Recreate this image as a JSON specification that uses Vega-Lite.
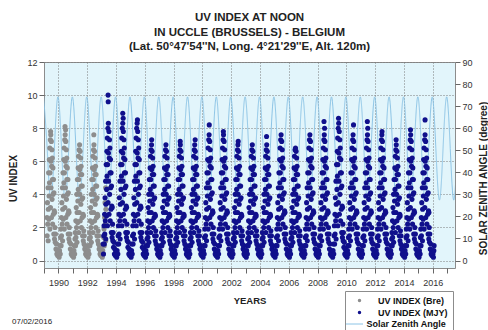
{"$schema":"https://vega.github.io/schema/vega-lite/v6.json","width":411,"height":206,"autosize":"none","padding":{"left":44,"top":62,"right":33,"bottom":62},"background":"#ffffff",
"config":{"font":"Liberation Sans","view":{"fill":"#e2f5fb","stroke":"#8c8c8c","strokeWidth":1},"axis":{"domain":false,"labelFont":"Liberation Sans","labelFontSize":9,"labelColor":"#333333","labelOverlap":false,"labelFlush":false,"tickColor":"#666666","tickSize":5,"titleFont":"Liberation Sans","titleFontWeight":"bold","titleFontSize":10,"titleColor":"#222222","gridColor":"#7a7a7a","gridDash":[1,2]}},
"title":{"text":["UV INDEX AT NOON","IN UCCLE (BRUSSELS) - BELGIUM","(Lat. 50°47'54''N, Long. 4°21'29''E, Alt. 120m)"],"font":"Liberation Sans","fontSize":11.5,"fontWeight":"bold","lineHeight":14.5,"color":"#222222","anchor":"middle","offset":5.5},
"datasets":{
"sza":[{"t":1988.97,"z":74.2},{"t":1989.22,"z":50.8},{"t":1989.47,"z":27.4},{"t":1989.72,"z":50.8},{"t":1989.97,"z":74.2},{"t":1990.22,"z":50.8},{"t":1990.47,"z":27.4},{"t":1990.72,"z":50.8},{"t":1990.97,"z":74.2},{"t":1991.22,"z":50.8},{"t":1991.47,"z":27.4},{"t":1991.72,"z":50.8},{"t":1991.97,"z":74.2},{"t":1992.22,"z":50.8},{"t":1992.47,"z":27.4},{"t":1992.72,"z":50.8},{"t":1992.97,"z":74.2},{"t":1993.22,"z":50.8},{"t":1993.47,"z":27.4},{"t":1993.72,"z":50.8},{"t":1993.97,"z":74.2},{"t":1994.22,"z":50.8},{"t":1994.47,"z":27.4},{"t":1994.72,"z":50.8},{"t":1994.97,"z":74.2},{"t":1995.22,"z":50.8},{"t":1995.47,"z":27.4},{"t":1995.72,"z":50.8},{"t":1995.97,"z":74.2},{"t":1996.22,"z":50.8},{"t":1996.47,"z":27.4},{"t":1996.72,"z":50.8},{"t":1996.97,"z":74.2},{"t":1997.22,"z":50.8},{"t":1997.47,"z":27.4},{"t":1997.72,"z":50.8},{"t":1997.97,"z":74.2},{"t":1998.22,"z":50.8},{"t":1998.47,"z":27.4},{"t":1998.72,"z":50.8},{"t":1998.97,"z":74.2},{"t":1999.22,"z":50.8},{"t":1999.47,"z":27.4},{"t":1999.72,"z":50.8},{"t":1999.97,"z":74.2},{"t":2000.22,"z":50.8},{"t":2000.47,"z":27.4},{"t":2000.72,"z":50.8},{"t":2000.97,"z":74.2},{"t":2001.22,"z":50.8},{"t":2001.47,"z":27.4},{"t":2001.72,"z":50.8},{"t":2001.97,"z":74.2},{"t":2002.22,"z":50.8},{"t":2002.47,"z":27.4},{"t":2002.72,"z":50.8},{"t":2002.97,"z":74.2},{"t":2003.22,"z":50.8},{"t":2003.47,"z":27.4},{"t":2003.72,"z":50.8},{"t":2003.97,"z":74.2},{"t":2004.22,"z":50.8},{"t":2004.47,"z":27.4},{"t":2004.72,"z":50.8},{"t":2004.97,"z":74.2},{"t":2005.22,"z":50.8},{"t":2005.47,"z":27.4},{"t":2005.72,"z":50.8},{"t":2005.97,"z":74.2},{"t":2006.22,"z":50.8},{"t":2006.47,"z":27.4},{"t":2006.72,"z":50.8},{"t":2006.97,"z":74.2},{"t":2007.22,"z":50.8},{"t":2007.47,"z":27.4},{"t":2007.72,"z":50.8},{"t":2007.97,"z":74.2},{"t":2008.22,"z":50.8},{"t":2008.47,"z":27.4},{"t":2008.72,"z":50.8},{"t":2008.97,"z":74.2},{"t":2009.22,"z":50.8},{"t":2009.47,"z":27.4},{"t":2009.72,"z":50.8},{"t":2009.97,"z":74.2},{"t":2010.22,"z":50.8},{"t":2010.47,"z":27.4},{"t":2010.72,"z":50.8},{"t":2010.97,"z":74.2},{"t":2011.22,"z":50.8},{"t":2011.47,"z":27.4},{"t":2011.72,"z":50.8},{"t":2011.97,"z":74.2},{"t":2012.22,"z":50.8},{"t":2012.47,"z":27.4},{"t":2012.72,"z":50.8},{"t":2012.97,"z":74.2},{"t":2013.22,"z":50.8},{"t":2013.47,"z":27.4},{"t":2013.72,"z":50.8},{"t":2013.97,"z":74.2},{"t":2014.22,"z":50.8},{"t":2014.47,"z":27.4},{"t":2014.72,"z":50.8},{"t":2014.97,"z":74.2},{"t":2015.22,"z":50.8},{"t":2015.47,"z":27.4},{"t":2015.72,"z":50.8},{"t":2015.97,"z":74.2},{"t":2016.22,"z":50.8},{"t":2016.47,"z":27.4},{"t":2016.72,"z":50.8},{"t":2016.97,"z":74.2},{"t":2017.22,"z":50.8},{"t":2017.47,"z":27.4},{"t":2017.72,"z":50.8},{"t":2017.97,"z":74.2}],
"bre":[{"t":1989.21,"u":2.6},{"t":1989.22,"u":1.5},{"t":1989.24,"u":3.5},{"t":1989.26,"u":2.2},{"t":1989.28,"u":4.4},{"t":1989.29,"u":1.2},{"t":1989.30,"u":3.1},{"t":1989.32,"u":5.3},{"t":1989.34,"u":2.5},{"t":1989.35,"u":3.9},{"t":1989.37,"u":6.1},{"t":1989.38,"u":4.7},{"t":1989.40,"u":6.8},{"t":1989.41,"u":1.9},{"t":1989.42,"u":5.3},{"t":1989.44,"u":7.3},{"t":1989.45,"u":3.2},{"t":1989.46,"u":7.8},{"t":1989.47,"u":7.6},{"t":1989.48,"u":6.0},{"t":1989.49,"u":4.4},{"t":1989.51,"u":7.2},{"t":1989.52,"u":2.6},{"t":1989.53,"u":5.7},{"t":1989.55,"u":6.7},{"t":1989.56,"u":3.7},{"t":1989.58,"u":6.2},{"t":1989.59,"u":4.9},{"t":1989.60,"u":2.2},{"t":1989.62,"u":5.6},{"t":1989.63,"u":4.0},{"t":1989.65,"u":2.8},{"t":1989.66,"u":4.9},{"t":1989.68,"u":1.6},{"t":1989.69,"u":4.1},{"t":1989.71,"u":3.0},{"t":1989.73,"u":1.3},{"t":1989.74,"u":2.9},{"t":1989.76,"u":2.0},{"t":1989.78,"u":1.1},{"t":1989.80,"u":1.6},{"t":1989.83,"u":0.7},{"t":1989.86,"u":1.0},{"t":1989.89,"u":0.4},{"t":1989.92,"u":0.6},{"t":1989.95,"u":0.3},{"t":1989.98,"u":0.5},
{"t":1990.02,"u":0.4},{"t":1990.05,"u":0.2},{"t":1990.08,"u":0.6},{"t":1990.11,"u":0.9},{"t":1990.13,"u":0.4},{"t":1990.15,"u":1.4},{"t":1990.17,"u":1.9},{"t":1990.19,"u":0.9},{"t":1990.21,"u":2.6},{"t":1990.22,"u":1.5},{"t":1990.24,"u":3.5},{"t":1990.26,"u":2.2},{"t":1990.28,"u":4.4},{"t":1990.29,"u":1.2},{"t":1990.30,"u":3.1},{"t":1990.32,"u":5.3},{"t":1990.34,"u":2.5},{"t":1990.35,"u":3.9},{"t":1990.37,"u":6.1},{"t":1990.38,"u":4.7},{"t":1990.40,"u":6.8},{"t":1990.41,"u":1.9},{"t":1990.42,"u":5.3},{"t":1990.44,"u":7.3},{"t":1990.45,"u":3.2},{"t":1990.46,"u":8.1},{"t":1990.47,"u":7.6},{"t":1990.48,"u":6.0},{"t":1990.49,"u":4.4},{"t":1990.50,"u":7.9},{"t":1990.51,"u":7.2},{"t":1990.52,"u":2.6},{"t":1990.53,"u":5.7},{"t":1990.55,"u":6.7},{"t":1990.56,"u":3.7},{"t":1990.58,"u":6.2},{"t":1990.59,"u":4.9},{"t":1990.60,"u":2.2},{"t":1990.62,"u":5.6},{"t":1990.63,"u":4.0},{"t":1990.65,"u":2.8},{"t":1990.66,"u":4.9},{"t":1990.68,"u":1.6},{"t":1990.69,"u":4.1},{"t":1990.71,"u":3.0},{"t":1990.73,"u":1.3},{"t":1990.74,"u":2.9},{"t":1990.76,"u":2.0},{"t":1990.78,"u":1.1},{"t":1990.80,"u":1.6},{"t":1990.83,"u":0.7},{"t":1990.86,"u":1.0},{"t":1990.89,"u":0.4},{"t":1990.92,"u":0.6},{"t":1990.95,"u":0.3},{"t":1990.98,"u":0.5},
{"t":1991.02,"u":0.4},{"t":1991.05,"u":0.2},{"t":1991.08,"u":0.6},{"t":1991.11,"u":0.9},{"t":1991.13,"u":0.4},{"t":1991.15,"u":1.3},{"t":1991.17,"u":1.7},{"t":1991.19,"u":0.9},{"t":1991.21,"u":2.4},{"t":1991.22,"u":1.4},{"t":1991.24,"u":3.2},{"t":1991.26,"u":2.0},{"t":1991.28,"u":4.0},{"t":1991.29,"u":1.1},{"t":1991.30,"u":2.9},{"t":1991.32,"u":4.9},{"t":1991.34,"u":2.3},{"t":1991.35,"u":3.6},{"t":1991.37,"u":5.6},{"t":1991.38,"u":4.3},{"t":1991.40,"u":6.3},{"t":1991.41,"u":1.7},{"t":1991.42,"u":4.9},{"t":1991.44,"u":6.7},{"t":1991.45,"u":2.9},{"t":1991.47,"u":7.0},{"t":1991.48,"u":5.5},{"t":1991.49,"u":4.0},{"t":1991.51,"u":6.6},{"t":1991.52,"u":2.4},{"t":1991.53,"u":5.2},{"t":1991.55,"u":6.2},{"t":1991.56,"u":3.4},{"t":1991.58,"u":5.7},{"t":1991.59,"u":4.5},{"t":1991.60,"u":2.0},{"t":1991.62,"u":5.2},{"t":1991.63,"u":3.7},{"t":1991.65,"u":2.6},{"t":1991.66,"u":4.5},{"t":1991.68,"u":1.5},{"t":1991.69,"u":3.8},{"t":1991.71,"u":2.8},{"t":1991.73,"u":1.2},{"t":1991.74,"u":2.7},{"t":1991.76,"u":1.8},{"t":1991.78,"u":1.0},{"t":1991.80,"u":1.5},{"t":1991.83,"u":0.7},{"t":1991.86,"u":0.9},{"t":1991.89,"u":0.4},{"t":1991.92,"u":0.6},{"t":1991.95,"u":0.3},{"t":1991.98,"u":0.5},
{"t":1992.02,"u":0.4},{"t":1992.05,"u":0.2},{"t":1992.08,"u":0.6},{"t":1992.11,"u":0.9},{"t":1992.13,"u":0.4},{"t":1992.15,"u":1.3},{"t":1992.17,"u":1.7},{"t":1992.19,"u":0.9},{"t":1992.21,"u":2.4},{"t":1992.22,"u":1.4},{"t":1992.24,"u":3.2},{"t":1992.26,"u":2.0},{"t":1992.28,"u":4.0},{"t":1992.29,"u":1.1},{"t":1992.30,"u":2.9},{"t":1992.32,"u":4.9},{"t":1992.34,"u":2.3},{"t":1992.35,"u":3.6},{"t":1992.37,"u":5.6},{"t":1992.38,"u":4.3},{"t":1992.40,"u":6.3},{"t":1992.41,"u":1.7},{"t":1992.42,"u":4.9},{"t":1992.44,"u":6.7},{"t":1992.45,"u":2.9},{"t":1992.46,"u":7.6},{"t":1992.47,"u":7.0},{"t":1992.48,"u":5.5},{"t":1992.49,"u":4.0},{"t":1992.51,"u":6.6},{"t":1992.52,"u":2.4},{"t":1992.53,"u":5.2},{"t":1992.55,"u":6.2},{"t":1992.56,"u":3.4},{"t":1992.58,"u":5.7},{"t":1992.59,"u":4.5},{"t":1992.60,"u":2.0},{"t":1992.62,"u":5.2},{"t":1992.63,"u":3.7},{"t":1992.65,"u":2.6},{"t":1992.66,"u":4.5},{"t":1992.68,"u":1.5},{"t":1992.69,"u":3.8},{"t":1992.71,"u":2.8},{"t":1992.73,"u":1.2},{"t":1992.74,"u":2.7},{"t":1992.76,"u":1.8},{"t":1992.78,"u":1.0},{"t":1992.80,"u":1.5},{"t":1992.83,"u":0.7},{"t":1992.86,"u":0.9},{"t":1992.89,"u":0.4},{"t":1992.92,"u":0.6},{"t":1992.95,"u":0.3},{"t":1992.98,"u":0.5},
{"t":1993.02,"u":0.4},{"t":1993.05,"u":0.2},{"t":1993.08,"u":0.6},{"t":1993.11,"u":0.9},{"t":1993.13,"u":0.4},{"t":1993.15,"u":1.4},{"t":1993.17,"u":1.9},{"t":1993.19,"u":0.9},{"t":1993.21,"u":2.6},{"t":1993.22,"u":1.5},{"t":1993.24,"u":3.5},{"t":1993.26,"u":2.2},{"t":1993.28,"u":4.4},{"t":1993.29,"u":1.2},{"t":1993.30,"u":3.1}],
"mjy":[{"t":1993.11,"u":1.0},{"t":1993.13,"u":0.4},{"t":1993.15,"u":1.5},{"t":1993.17,"u":2.1},{"t":1993.19,"u":1.0},{"t":1993.21,"u":2.8},{"t":1993.22,"u":1.6},{"t":1993.24,"u":3.8},{"t":1993.26,"u":2.4},{"t":1993.28,"u":4.8},{"t":1993.29,"u":1.3},{"t":1993.30,"u":3.4},{"t":1993.32,"u":5.8},{"t":1993.34,"u":2.7},{"t":1993.35,"u":4.3},{"t":1993.37,"u":6.6},{"t":1993.38,"u":5.1},{"t":1993.40,"u":7.4},{"t":1993.41,"u":2.1},{"t":1993.42,"u":5.8},{"t":1993.44,"u":8.0},{"t":1993.45,"u":10.0},{"t":1993.46,"u":9.6},{"t":1993.45,"u":3.5},{"t":1993.47,"u":8.3},{"t":1993.48,"u":6.5},{"t":1993.49,"u":4.8},{"t":1993.51,"u":7.8},{"t":1993.52,"u":2.8},{"t":1993.53,"u":6.2},{"t":1993.55,"u":7.3},{"t":1993.56,"u":4.0},{"t":1993.58,"u":6.8},{"t":1993.59,"u":5.3},{"t":1993.60,"u":2.4},{"t":1993.62,"u":6.1},{"t":1993.63,"u":4.4},{"t":1993.65,"u":3.1},{"t":1993.66,"u":5.3},{"t":1993.68,"u":1.7},{"t":1993.69,"u":4.5},{"t":1993.71,"u":3.3},{"t":1993.73,"u":1.4},{"t":1993.74,"u":3.2},{"t":1993.76,"u":2.2},{"t":1993.78,"u":1.2},{"t":1993.80,"u":1.7},{"t":1993.83,"u":0.8},{"t":1993.86,"u":1.1},{"t":1993.89,"u":0.4},{"t":1993.92,"u":0.7},{"t":1993.95,"u":0.3},{"t":1993.98,"u":0.5},
{"t":1994.02,"u":0.4},{"t":1994.05,"u":0.2},{"t":1994.08,"u":0.6},{"t":1994.11,"u":1.0},{"t":1994.13,"u":0.4},{"t":1994.15,"u":1.5},{"t":1994.17,"u":2.1},{"t":1994.19,"u":1.0},{"t":1994.21,"u":2.8},{"t":1994.22,"u":1.6},{"t":1994.24,"u":3.8},{"t":1994.26,"u":2.4},{"t":1994.28,"u":4.8},{"t":1994.29,"u":1.3},{"t":1994.30,"u":3.4},{"t":1994.32,"u":5.8},{"t":1994.34,"u":2.7},{"t":1994.35,"u":4.3},{"t":1994.37,"u":6.6},{"t":1994.38,"u":5.1},{"t":1994.40,"u":7.4},{"t":1994.41,"u":2.1},{"t":1994.42,"u":5.8},{"t":1994.44,"u":8.0},{"t":1994.45,"u":3.5},{"t":1994.47,"u":8.9},{"t":1994.47,"u":8.3},{"t":1994.48,"u":6.5},{"t":1994.49,"u":4.8},{"t":1994.50,"u":8.6},{"t":1994.51,"u":7.8},{"t":1994.52,"u":2.8},{"t":1994.53,"u":6.2},{"t":1994.55,"u":7.3},{"t":1994.56,"u":4.0},{"t":1994.58,"u":6.8},{"t":1994.59,"u":5.3},{"t":1994.60,"u":2.4},{"t":1994.62,"u":6.1},{"t":1994.63,"u":4.4},{"t":1994.65,"u":3.1},{"t":1994.66,"u":5.3},{"t":1994.68,"u":1.7},{"t":1994.69,"u":4.5},{"t":1994.71,"u":3.3},{"t":1994.73,"u":1.4},{"t":1994.74,"u":3.2},{"t":1994.76,"u":2.2},{"t":1994.78,"u":1.2},{"t":1994.80,"u":1.7},{"t":1994.83,"u":0.8},{"t":1994.86,"u":1.1},{"t":1994.89,"u":0.4},{"t":1994.92,"u":0.7},{"t":1994.95,"u":0.3},{"t":1994.98,"u":0.5},
{"t":1995.02,"u":0.4},{"t":1995.05,"u":0.2},{"t":1995.08,"u":0.6},{"t":1995.11,"u":1.0},{"t":1995.13,"u":0.4},{"t":1995.15,"u":1.5},{"t":1995.17,"u":2.1},{"t":1995.19,"u":1.0},{"t":1995.21,"u":2.8},{"t":1995.22,"u":1.6},{"t":1995.24,"u":3.8},{"t":1995.26,"u":2.4},{"t":1995.28,"u":4.8},{"t":1995.29,"u":1.3},{"t":1995.30,"u":3.4},{"t":1995.32,"u":5.8},{"t":1995.34,"u":2.7},{"t":1995.35,"u":4.3},{"t":1995.37,"u":6.6},{"t":1995.38,"u":5.1},{"t":1995.40,"u":7.4},{"t":1995.41,"u":2.1},{"t":1995.42,"u":5.8},{"t":1995.44,"u":8.0},{"t":1995.45,"u":3.5},{"t":1995.47,"u":8.3},{"t":1995.48,"u":6.5},{"t":1995.49,"u":8.5},{"t":1995.49,"u":4.8},{"t":1995.51,"u":7.8},{"t":1995.52,"u":2.8},{"t":1995.53,"u":6.2},{"t":1995.55,"u":7.3},{"t":1995.56,"u":4.0},{"t":1995.58,"u":6.8},{"t":1995.59,"u":5.3},{"t":1995.60,"u":2.4},{"t":1995.62,"u":6.1},{"t":1995.63,"u":4.4},{"t":1995.65,"u":3.1},{"t":1995.66,"u":5.3},{"t":1995.68,"u":1.7},{"t":1995.69,"u":4.5},{"t":1995.71,"u":3.3},{"t":1995.73,"u":1.4},{"t":1995.74,"u":3.2},{"t":1995.76,"u":2.2},{"t":1995.78,"u":1.2},{"t":1995.80,"u":1.7},{"t":1995.83,"u":0.8},{"t":1995.86,"u":1.1},{"t":1995.89,"u":0.4},{"t":1995.92,"u":0.7},{"t":1995.95,"u":0.3},{"t":1995.98,"u":0.5},
{"t":1996.02,"u":0.4},{"t":1996.05,"u":0.2},{"t":1996.08,"u":0.6},{"t":1996.11,"u":0.9},{"t":1996.13,"u":0.4},{"t":1996.15,"u":1.3},{"t":1996.17,"u":1.7},{"t":1996.19,"u":0.9},{"t":1996.21,"u":2.4},{"t":1996.22,"u":1.4},{"t":1996.24,"u":3.2},{"t":1996.26,"u":2.0},{"t":1996.28,"u":4.0},{"t":1996.29,"u":1.1},{"t":1996.30,"u":2.9},{"t":1996.32,"u":4.9},{"t":1996.34,"u":2.3},{"t":1996.35,"u":3.6},{"t":1996.37,"u":5.6},{"t":1996.38,"u":4.3},{"t":1996.40,"u":6.3},{"t":1996.41,"u":1.7},{"t":1996.42,"u":4.9},{"t":1996.44,"u":6.7},{"t":1996.45,"u":2.9},{"t":1996.47,"u":7.0},{"t":1996.48,"u":7.3},{"t":1996.48,"u":5.5},{"t":1996.49,"u":4.0},{"t":1996.51,"u":6.6},{"t":1996.52,"u":2.4},{"t":1996.53,"u":5.2},{"t":1996.55,"u":6.2},{"t":1996.56,"u":3.4},{"t":1996.58,"u":5.7},{"t":1996.59,"u":4.5},{"t":1996.60,"u":2.0},{"t":1996.62,"u":5.2},{"t":1996.63,"u":3.7},{"t":1996.65,"u":2.6},{"t":1996.66,"u":4.5},{"t":1996.68,"u":1.5},{"t":1996.69,"u":3.8},{"t":1996.71,"u":2.8},{"t":1996.73,"u":1.2},{"t":1996.74,"u":2.7},{"t":1996.76,"u":1.8},{"t":1996.78,"u":1.0},{"t":1996.80,"u":1.5},{"t":1996.83,"u":0.7},{"t":1996.86,"u":0.9},{"t":1996.89,"u":0.4},{"t":1996.92,"u":0.6},{"t":1996.95,"u":0.3},{"t":1996.98,"u":0.5},
{"t":1997.02,"u":0.4},{"t":1997.05,"u":0.2},{"t":1997.08,"u":0.6},{"t":1997.11,"u":0.9},{"t":1997.13,"u":0.4},{"t":1997.15,"u":1.3},{"t":1997.17,"u":1.7},{"t":1997.19,"u":0.9},{"t":1997.21,"u":2.4},{"t":1997.22,"u":1.4},{"t":1997.24,"u":3.2},{"t":1997.26,"u":2.0},{"t":1997.28,"u":4.0},{"t":1997.29,"u":1.1},{"t":1997.30,"u":2.9},{"t":1997.32,"u":4.9},{"t":1997.34,"u":2.3},{"t":1997.35,"u":3.6},{"t":1997.37,"u":5.6},{"t":1997.38,"u":4.3},{"t":1997.40,"u":6.3},{"t":1997.41,"u":1.7},{"t":1997.42,"u":4.9},{"t":1997.44,"u":6.7},{"t":1997.45,"u":2.9},{"t":1997.47,"u":7.0},{"t":1997.48,"u":5.5},{"t":1997.49,"u":4.0},{"t":1997.51,"u":6.6},{"t":1997.52,"u":2.4},{"t":1997.53,"u":5.2},{"t":1997.55,"u":6.2},{"t":1997.56,"u":3.4},{"t":1997.58,"u":5.7},{"t":1997.59,"u":4.5},{"t":1997.60,"u":2.0},{"t":1997.62,"u":5.2},{"t":1997.63,"u":3.7},{"t":1997.65,"u":2.6},{"t":1997.66,"u":4.5},{"t":1997.68,"u":1.5},{"t":1997.69,"u":3.8},{"t":1997.71,"u":2.8},{"t":1997.73,"u":1.2},{"t":1997.74,"u":2.7},{"t":1997.76,"u":1.8},{"t":1997.78,"u":1.0},{"t":1997.80,"u":1.5},{"t":1997.83,"u":0.7},{"t":1997.86,"u":0.9},{"t":1997.89,"u":0.4},{"t":1997.92,"u":0.6},{"t":1997.95,"u":0.3},{"t":1997.98,"u":0.5},
{"t":1998.02,"u":0.4},{"t":1998.05,"u":0.2},{"t":1998.08,"u":0.6},{"t":1998.11,"u":0.9},{"t":1998.13,"u":0.4},{"t":1998.15,"u":1.3},{"t":1998.17,"u":1.7},{"t":1998.19,"u":0.9},{"t":1998.21,"u":2.4},{"t":1998.22,"u":1.4},{"t":1998.24,"u":3.2},{"t":1998.26,"u":2.0},{"t":1998.28,"u":4.0},{"t":1998.29,"u":1.1},{"t":1998.30,"u":2.9},{"t":1998.32,"u":4.9},{"t":1998.34,"u":2.3},{"t":1998.35,"u":3.6},{"t":1998.37,"u":5.6},{"t":1998.38,"u":4.3},{"t":1998.40,"u":6.3},{"t":1998.41,"u":1.7},{"t":1998.42,"u":4.9},{"t":1998.44,"u":6.7},{"t":1998.45,"u":2.9},{"t":1998.46,"u":7.2},{"t":1998.47,"u":7.0},{"t":1998.48,"u":5.5},{"t":1998.49,"u":4.0},{"t":1998.51,"u":6.6},{"t":1998.52,"u":2.4},{"t":1998.53,"u":5.2},{"t":1998.55,"u":6.2},{"t":1998.56,"u":3.4},{"t":1998.58,"u":5.7},{"t":1998.59,"u":4.5},{"t":1998.60,"u":2.0},{"t":1998.62,"u":5.2},{"t":1998.63,"u":3.7},{"t":1998.65,"u":2.6},{"t":1998.66,"u":4.5},{"t":1998.68,"u":1.5},{"t":1998.69,"u":3.8},{"t":1998.71,"u":2.8},{"t":1998.73,"u":1.2},{"t":1998.74,"u":2.7},{"t":1998.76,"u":1.8},{"t":1998.78,"u":1.0},{"t":1998.80,"u":1.5},{"t":1998.83,"u":0.7},{"t":1998.86,"u":0.9},{"t":1998.89,"u":0.4},{"t":1998.92,"u":0.6},{"t":1998.95,"u":0.3},{"t":1998.98,"u":0.5},
{"t":1999.02,"u":0.4},{"t":1999.05,"u":0.2},{"t":1999.08,"u":0.6},{"t":1999.11,"u":0.9},{"t":1999.13,"u":0.4},{"t":1999.15,"u":1.3},{"t":1999.17,"u":1.7},{"t":1999.19,"u":0.9},{"t":1999.21,"u":2.4},{"t":1999.22,"u":1.4},{"t":1999.24,"u":3.2},{"t":1999.26,"u":2.0},{"t":1999.28,"u":4.0},{"t":1999.29,"u":1.1},{"t":1999.30,"u":2.9},{"t":1999.32,"u":4.9},{"t":1999.34,"u":2.3},{"t":1999.35,"u":3.6},{"t":1999.37,"u":5.6},{"t":1999.38,"u":4.3},{"t":1999.40,"u":6.3},{"t":1999.41,"u":1.7},{"t":1999.42,"u":4.9},{"t":1999.44,"u":6.7},{"t":1999.45,"u":2.9},{"t":1999.47,"u":7.0},{"t":1999.48,"u":5.5},{"t":1999.49,"u":4.0},{"t":1999.50,"u":7.3},{"t":1999.51,"u":6.6},{"t":1999.52,"u":2.4},{"t":1999.53,"u":5.2},{"t":1999.55,"u":6.2},{"t":1999.56,"u":3.4},{"t":1999.58,"u":5.7},{"t":1999.59,"u":4.5},{"t":1999.60,"u":2.0},{"t":1999.62,"u":5.2},{"t":1999.63,"u":3.7},{"t":1999.65,"u":2.6},{"t":1999.66,"u":4.5},{"t":1999.68,"u":1.5},{"t":1999.69,"u":3.8},{"t":1999.71,"u":2.8},{"t":1999.73,"u":1.2},{"t":1999.74,"u":2.7},{"t":1999.76,"u":1.8},{"t":1999.78,"u":1.0},{"t":1999.80,"u":1.5},{"t":1999.83,"u":0.7},{"t":1999.86,"u":0.9},{"t":1999.89,"u":0.4},{"t":1999.92,"u":0.6},{"t":1999.95,"u":0.3},{"t":1999.98,"u":0.5},
{"t":2000.02,"u":0.4},{"t":2000.05,"u":0.2},{"t":2000.08,"u":0.6},{"t":2000.11,"u":0.9},{"t":2000.13,"u":0.4},{"t":2000.15,"u":1.4},{"t":2000.17,"u":1.9},{"t":2000.19,"u":0.9},{"t":2000.21,"u":2.6},{"t":2000.22,"u":1.5},{"t":2000.24,"u":3.5},{"t":2000.26,"u":2.2},{"t":2000.28,"u":4.4},{"t":2000.29,"u":1.2},{"t":2000.30,"u":3.1},{"t":2000.32,"u":5.3},{"t":2000.34,"u":2.5},{"t":2000.35,"u":3.9},{"t":2000.37,"u":6.1},{"t":2000.38,"u":4.7},{"t":2000.40,"u":6.8},{"t":2000.41,"u":1.9},{"t":2000.42,"u":5.3},{"t":2000.44,"u":7.3},{"t":2000.45,"u":3.2},{"t":2000.47,"u":7.6},{"t":2000.48,"u":8.2},{"t":2000.48,"u":6.0},{"t":2000.49,"u":4.4},{"t":2000.51,"u":7.2},{"t":2000.52,"u":2.6},{"t":2000.53,"u":5.7},{"t":2000.55,"u":6.7},{"t":2000.56,"u":3.7},{"t":2000.58,"u":6.2},{"t":2000.59,"u":4.9},{"t":2000.60,"u":2.2},{"t":2000.62,"u":5.6},{"t":2000.63,"u":4.0},{"t":2000.65,"u":2.8},{"t":2000.66,"u":4.9},{"t":2000.68,"u":1.6},{"t":2000.69,"u":4.1},{"t":2000.71,"u":3.0},{"t":2000.73,"u":1.3},{"t":2000.74,"u":2.9},{"t":2000.76,"u":2.0},{"t":2000.78,"u":1.1},{"t":2000.80,"u":1.6},{"t":2000.83,"u":0.7},{"t":2000.86,"u":1.0},{"t":2000.89,"u":0.4},{"t":2000.92,"u":0.6},{"t":2000.95,"u":0.3},{"t":2000.98,"u":0.5},
{"t":2001.02,"u":0.4},{"t":2001.05,"u":0.2},{"t":2001.08,"u":0.6},{"t":2001.11,"u":0.9},{"t":2001.13,"u":0.4},{"t":2001.15,"u":1.4},{"t":2001.17,"u":1.9},{"t":2001.19,"u":0.9},{"t":2001.21,"u":2.6},{"t":2001.22,"u":1.5},{"t":2001.24,"u":3.5},{"t":2001.26,"u":2.2},{"t":2001.28,"u":4.4},{"t":2001.29,"u":1.2},{"t":2001.30,"u":3.1},{"t":2001.32,"u":5.3},{"t":2001.34,"u":2.5},{"t":2001.35,"u":3.9},{"t":2001.37,"u":6.1},{"t":2001.38,"u":4.7},{"t":2001.40,"u":6.8},{"t":2001.41,"u":1.9},{"t":2001.42,"u":5.3},{"t":2001.44,"u":7.3},{"t":2001.45,"u":3.2},{"t":2001.46,"u":7.8},{"t":2001.47,"u":7.6},{"t":2001.48,"u":6.0},{"t":2001.49,"u":4.4},{"t":2001.51,"u":7.2},{"t":2001.52,"u":2.6},{"t":2001.53,"u":5.7},{"t":2001.55,"u":6.7},{"t":2001.56,"u":3.7},{"t":2001.58,"u":6.2},{"t":2001.59,"u":4.9},{"t":2001.60,"u":2.2},{"t":2001.62,"u":5.6},{"t":2001.63,"u":4.0},{"t":2001.65,"u":2.8},{"t":2001.66,"u":4.9},{"t":2001.68,"u":1.6},{"t":2001.69,"u":4.1},{"t":2001.71,"u":3.0},{"t":2001.73,"u":1.3},{"t":2001.74,"u":2.9},{"t":2001.76,"u":2.0},{"t":2001.78,"u":1.1},{"t":2001.80,"u":1.6},{"t":2001.83,"u":0.7},{"t":2001.86,"u":1.0},{"t":2001.89,"u":0.4},{"t":2001.92,"u":0.6},{"t":2001.95,"u":0.3},{"t":2001.98,"u":0.5},
{"t":2002.02,"u":0.4},{"t":2002.05,"u":0.2},{"t":2002.08,"u":0.6},{"t":2002.11,"u":0.9},{"t":2002.13,"u":0.4},{"t":2002.15,"u":1.3},{"t":2002.17,"u":1.7},{"t":2002.19,"u":0.9},{"t":2002.21,"u":2.4},{"t":2002.22,"u":1.4},{"t":2002.24,"u":3.2},{"t":2002.26,"u":2.0},{"t":2002.28,"u":4.0},{"t":2002.29,"u":1.1},{"t":2002.30,"u":2.9},{"t":2002.32,"u":4.9},{"t":2002.34,"u":2.3},{"t":2002.35,"u":3.6},{"t":2002.37,"u":5.6},{"t":2002.38,"u":4.3},{"t":2002.40,"u":6.3},{"t":2002.41,"u":1.7},{"t":2002.42,"u":4.9},{"t":2002.44,"u":6.7},{"t":2002.45,"u":2.9},{"t":2002.47,"u":7.0},{"t":2002.48,"u":5.5},{"t":2002.49,"u":7.2},{"t":2002.49,"u":4.0},{"t":2002.51,"u":6.6},{"t":2002.52,"u":2.4},{"t":2002.53,"u":5.2},{"t":2002.55,"u":6.2},{"t":2002.56,"u":3.4},{"t":2002.58,"u":5.7},{"t":2002.59,"u":4.5},{"t":2002.60,"u":2.0},{"t":2002.62,"u":5.2},{"t":2002.63,"u":3.7},{"t":2002.65,"u":2.6},{"t":2002.66,"u":4.5},{"t":2002.68,"u":1.5},{"t":2002.69,"u":3.8},{"t":2002.71,"u":2.8},{"t":2002.73,"u":1.2},{"t":2002.74,"u":2.7},{"t":2002.76,"u":1.8},{"t":2002.78,"u":1.0},{"t":2002.80,"u":1.5},{"t":2002.83,"u":0.7},{"t":2002.86,"u":0.9},{"t":2002.89,"u":0.4},{"t":2002.92,"u":0.6},{"t":2002.95,"u":0.3},{"t":2002.98,"u":0.5},
{"t":2003.02,"u":0.4},{"t":2003.05,"u":0.2},{"t":2003.08,"u":0.6},{"t":2003.11,"u":0.9},{"t":2003.13,"u":0.4},{"t":2003.15,"u":1.3},{"t":2003.17,"u":1.7},{"t":2003.19,"u":0.9},{"t":2003.21,"u":2.4},{"t":2003.22,"u":1.4},{"t":2003.24,"u":3.2},{"t":2003.26,"u":2.0},{"t":2003.28,"u":4.0},{"t":2003.29,"u":1.1},{"t":2003.30,"u":2.9},{"t":2003.32,"u":4.9},{"t":2003.34,"u":2.3},{"t":2003.35,"u":3.6},{"t":2003.37,"u":5.6},{"t":2003.38,"u":4.3},{"t":2003.40,"u":6.3},{"t":2003.41,"u":1.7},{"t":2003.42,"u":4.9},{"t":2003.44,"u":6.7},{"t":2003.45,"u":2.9},{"t":2003.47,"u":7.0},{"t":2003.48,"u":5.5},{"t":2003.49,"u":4.0},{"t":2003.51,"u":6.6},{"t":2003.52,"u":2.4},{"t":2003.53,"u":5.2},{"t":2003.55,"u":6.2},{"t":2003.56,"u":3.4},{"t":2003.58,"u":5.7},{"t":2003.59,"u":4.5},{"t":2003.60,"u":2.0},{"t":2003.62,"u":5.2},{"t":2003.63,"u":3.7},{"t":2003.65,"u":2.6},{"t":2003.66,"u":4.5},{"t":2003.68,"u":1.5},{"t":2003.69,"u":3.8},{"t":2003.71,"u":2.8},{"t":2003.73,"u":1.2},{"t":2003.74,"u":2.7},{"t":2003.76,"u":1.8},{"t":2003.78,"u":1.0},{"t":2003.80,"u":1.5},{"t":2003.83,"u":0.7},{"t":2003.86,"u":0.9},{"t":2003.89,"u":0.4},{"t":2003.92,"u":0.6},{"t":2003.95,"u":0.3},{"t":2003.98,"u":0.5},
{"t":2004.02,"u":0.4},{"t":2004.05,"u":0.2},{"t":2004.08,"u":0.6},{"t":2004.11,"u":0.9},{"t":2004.13,"u":0.4},{"t":2004.15,"u":1.3},{"t":2004.17,"u":1.7},{"t":2004.19,"u":0.9},{"t":2004.21,"u":2.4},{"t":2004.22,"u":1.4},{"t":2004.24,"u":3.2},{"t":2004.26,"u":2.0},{"t":2004.28,"u":4.0},{"t":2004.29,"u":1.1},{"t":2004.30,"u":2.9},{"t":2004.32,"u":4.9},{"t":2004.34,"u":2.3},{"t":2004.35,"u":3.6},{"t":2004.37,"u":5.6},{"t":2004.38,"u":4.3},{"t":2004.40,"u":6.3},{"t":2004.41,"u":1.7},{"t":2004.42,"u":4.9},{"t":2004.44,"u":6.7},{"t":2004.45,"u":2.9},{"t":2004.46,"u":7.5},{"t":2004.47,"u":7.0},{"t":2004.48,"u":5.5},{"t":2004.49,"u":4.0},{"t":2004.51,"u":6.6},{"t":2004.52,"u":2.4},{"t":2004.53,"u":5.2},{"t":2004.55,"u":6.2},{"t":2004.56,"u":3.4},{"t":2004.58,"u":5.7},{"t":2004.59,"u":4.5},{"t":2004.60,"u":2.0},{"t":2004.62,"u":5.2},{"t":2004.63,"u":3.7},{"t":2004.65,"u":2.6},{"t":2004.66,"u":4.5},{"t":2004.68,"u":1.5},{"t":2004.69,"u":3.8},{"t":2004.71,"u":2.8},{"t":2004.73,"u":1.2},{"t":2004.74,"u":2.7},{"t":2004.76,"u":1.8},{"t":2004.78,"u":1.0},{"t":2004.80,"u":1.5},{"t":2004.83,"u":0.7},{"t":2004.86,"u":0.9},{"t":2004.89,"u":0.4},{"t":2004.92,"u":0.6},{"t":2004.95,"u":0.3},{"t":2004.98,"u":0.5},
{"t":2005.02,"u":0.4},{"t":2005.05,"u":0.2},{"t":2005.08,"u":0.6},{"t":2005.11,"u":0.9},{"t":2005.13,"u":0.4},{"t":2005.15,"u":1.4},{"t":2005.17,"u":1.9},{"t":2005.19,"u":0.9},{"t":2005.21,"u":2.6},{"t":2005.22,"u":1.5},{"t":2005.24,"u":3.5},{"t":2005.26,"u":2.2},{"t":2005.28,"u":4.4},{"t":2005.29,"u":1.2},{"t":2005.30,"u":3.1},{"t":2005.32,"u":5.3},{"t":2005.34,"u":2.5},{"t":2005.35,"u":3.9},{"t":2005.37,"u":6.1},{"t":2005.38,"u":4.7},{"t":2005.40,"u":6.8},{"t":2005.41,"u":1.9},{"t":2005.42,"u":5.3},{"t":2005.44,"u":7.3},{"t":2005.45,"u":3.2},{"t":2005.47,"u":7.6},{"t":2005.48,"u":6.0},{"t":2005.49,"u":4.4},{"t":2005.51,"u":7.2},{"t":2005.52,"u":2.6},{"t":2005.53,"u":5.7},{"t":2005.55,"u":6.7},{"t":2005.56,"u":3.7},{"t":2005.58,"u":6.2},{"t":2005.59,"u":4.9},{"t":2005.60,"u":2.2},{"t":2005.62,"u":5.6},{"t":2005.63,"u":4.0},{"t":2005.65,"u":2.8},{"t":2005.66,"u":4.9},{"t":2005.68,"u":1.6},{"t":2005.69,"u":4.1},{"t":2005.71,"u":3.0},{"t":2005.73,"u":1.3},{"t":2005.74,"u":2.9},{"t":2005.76,"u":2.0},{"t":2005.78,"u":1.1},{"t":2005.80,"u":1.6},{"t":2005.83,"u":0.7},{"t":2005.86,"u":1.0},{"t":2005.89,"u":0.4},{"t":2005.92,"u":0.6},{"t":2005.95,"u":0.3},{"t":2005.98,"u":0.5},
{"t":2006.02,"u":0.4},{"t":2006.05,"u":0.2},{"t":2006.08,"u":0.6},{"t":2006.11,"u":0.9},{"t":2006.13,"u":0.4},{"t":2006.15,"u":1.3},{"t":2006.17,"u":1.7},{"t":2006.19,"u":0.9},{"t":2006.21,"u":2.4},{"t":2006.22,"u":1.4},{"t":2006.24,"u":3.2},{"t":2006.26,"u":2.0},{"t":2006.28,"u":4.0},{"t":2006.29,"u":1.1},{"t":2006.30,"u":2.9},{"t":2006.32,"u":4.9},{"t":2006.34,"u":2.3},{"t":2006.35,"u":3.6},{"t":2006.37,"u":5.6},{"t":2006.38,"u":4.3},{"t":2006.40,"u":6.3},{"t":2006.41,"u":1.7},{"t":2006.42,"u":4.9},{"t":2006.44,"u":6.7},{"t":2006.45,"u":2.9},{"t":2006.47,"u":6.8},{"t":2006.48,"u":5.5},{"t":2006.49,"u":4.0},{"t":2006.51,"u":6.6},{"t":2006.52,"u":2.4},{"t":2006.53,"u":5.2},{"t":2006.55,"u":6.2},{"t":2006.56,"u":3.4},{"t":2006.58,"u":5.7},{"t":2006.59,"u":4.5},{"t":2006.60,"u":2.0},{"t":2006.62,"u":5.2},{"t":2006.63,"u":3.7},{"t":2006.65,"u":2.6},{"t":2006.66,"u":4.5},{"t":2006.68,"u":1.5},{"t":2006.69,"u":3.8},{"t":2006.71,"u":2.8},{"t":2006.73,"u":1.2},{"t":2006.74,"u":2.7},{"t":2006.76,"u":1.8},{"t":2006.78,"u":1.0},{"t":2006.80,"u":1.5},{"t":2006.83,"u":0.7},{"t":2006.86,"u":0.9},{"t":2006.89,"u":0.4},{"t":2006.92,"u":0.6},{"t":2006.95,"u":0.3},{"t":2006.98,"u":0.5},
{"t":2007.02,"u":0.4},{"t":2007.05,"u":0.2},{"t":2007.08,"u":0.6},{"t":2007.11,"u":0.9},{"t":2007.13,"u":0.4},{"t":2007.15,"u":1.4},{"t":2007.17,"u":1.9},{"t":2007.19,"u":0.9},{"t":2007.21,"u":2.6},{"t":2007.22,"u":1.5},{"t":2007.24,"u":3.5},{"t":2007.26,"u":2.2},{"t":2007.28,"u":4.4},{"t":2007.29,"u":1.2},{"t":2007.30,"u":3.1},{"t":2007.32,"u":5.3},{"t":2007.34,"u":2.5},{"t":2007.35,"u":3.9},{"t":2007.37,"u":6.1},{"t":2007.38,"u":4.7},{"t":2007.40,"u":6.8},{"t":2007.41,"u":1.9},{"t":2007.42,"u":5.3},{"t":2007.44,"u":7.3},{"t":2007.45,"u":3.2},{"t":2007.47,"u":7.6},{"t":2007.48,"u":6.0},{"t":2007.49,"u":4.4},{"t":2007.51,"u":7.2},{"t":2007.52,"u":2.6},{"t":2007.53,"u":5.7},{"t":2007.55,"u":6.7},{"t":2007.56,"u":3.7},{"t":2007.58,"u":6.2},{"t":2007.59,"u":4.9},{"t":2007.60,"u":2.2},{"t":2007.62,"u":5.6},{"t":2007.63,"u":4.0},{"t":2007.65,"u":2.8},{"t":2007.66,"u":4.9},{"t":2007.68,"u":1.6},{"t":2007.69,"u":4.1},{"t":2007.71,"u":3.0},{"t":2007.73,"u":1.3},{"t":2007.74,"u":2.9},{"t":2007.76,"u":2.0},{"t":2007.78,"u":1.1},{"t":2007.80,"u":1.6},{"t":2007.83,"u":0.7},{"t":2007.86,"u":1.0},{"t":2007.89,"u":0.4},{"t":2007.92,"u":0.6},{"t":2007.95,"u":0.3},{"t":2007.98,"u":0.5},
{"t":2008.02,"u":0.4},{"t":2008.05,"u":0.2},{"t":2008.08,"u":0.6},{"t":2008.11,"u":0.9},{"t":2008.13,"u":0.4},{"t":2008.15,"u":1.4},{"t":2008.17,"u":1.9},{"t":2008.19,"u":0.9},{"t":2008.21,"u":2.6},{"t":2008.22,"u":1.5},{"t":2008.24,"u":3.5},{"t":2008.26,"u":2.2},{"t":2008.28,"u":4.4},{"t":2008.29,"u":1.2},{"t":2008.30,"u":3.1},{"t":2008.32,"u":5.3},{"t":2008.34,"u":2.5},{"t":2008.35,"u":3.9},{"t":2008.37,"u":6.1},{"t":2008.38,"u":4.7},{"t":2008.40,"u":6.8},{"t":2008.41,"u":1.9},{"t":2008.42,"u":5.3},{"t":2008.44,"u":7.3},{"t":2008.45,"u":8.4},{"t":2008.45,"u":3.2},{"t":2008.47,"u":7.6},{"t":2008.48,"u":6.0},{"t":2008.49,"u":8.0},{"t":2008.49,"u":4.4},{"t":2008.51,"u":7.2},{"t":2008.52,"u":2.6},{"t":2008.53,"u":5.7},{"t":2008.55,"u":6.7},{"t":2008.56,"u":3.7},{"t":2008.58,"u":6.2},{"t":2008.59,"u":4.9},{"t":2008.60,"u":2.2},{"t":2008.62,"u":5.6},{"t":2008.63,"u":4.0},{"t":2008.65,"u":2.8},{"t":2008.66,"u":4.9},{"t":2008.68,"u":1.6},{"t":2008.69,"u":4.1},{"t":2008.71,"u":3.0},{"t":2008.73,"u":1.3},{"t":2008.74,"u":2.9},{"t":2008.76,"u":2.0},{"t":2008.78,"u":1.1},{"t":2008.80,"u":1.6},{"t":2008.83,"u":0.7},{"t":2008.86,"u":1.0},{"t":2008.89,"u":0.4},{"t":2008.92,"u":0.6},{"t":2008.95,"u":0.3},{"t":2008.98,"u":0.5},
{"t":2009.02,"u":0.4},{"t":2009.05,"u":0.2},{"t":2009.08,"u":0.6},{"t":2009.11,"u":1.0},{"t":2009.13,"u":0.4},{"t":2009.15,"u":1.5},{"t":2009.17,"u":2.1},{"t":2009.19,"u":1.0},{"t":2009.21,"u":2.8},{"t":2009.22,"u":1.6},{"t":2009.24,"u":3.8},{"t":2009.26,"u":2.4},{"t":2009.28,"u":4.8},{"t":2009.29,"u":1.3},{"t":2009.30,"u":3.4},{"t":2009.32,"u":5.8},{"t":2009.34,"u":2.7},{"t":2009.35,"u":4.3},{"t":2009.37,"u":6.6},{"t":2009.38,"u":5.1},{"t":2009.40,"u":7.4},{"t":2009.41,"u":2.1},{"t":2009.42,"u":5.8},{"t":2009.44,"u":8.0},{"t":2009.45,"u":3.5},{"t":2009.46,"u":8.6},{"t":2009.47,"u":8.3},{"t":2009.48,"u":6.5},{"t":2009.49,"u":4.8},{"t":2009.51,"u":7.8},{"t":2009.52,"u":2.8},{"t":2009.53,"u":6.2},{"t":2009.55,"u":7.3},{"t":2009.56,"u":4.0},{"t":2009.58,"u":6.8},{"t":2009.59,"u":5.3},{"t":2009.60,"u":2.4},{"t":2009.62,"u":6.1},{"t":2009.63,"u":4.4},{"t":2009.65,"u":3.1},{"t":2009.66,"u":5.3},{"t":2009.68,"u":1.7},{"t":2009.69,"u":4.5},{"t":2009.71,"u":3.3},{"t":2009.73,"u":1.4},{"t":2009.74,"u":3.2},{"t":2009.76,"u":2.2},{"t":2009.78,"u":1.2},{"t":2009.80,"u":1.7},{"t":2009.83,"u":0.8},{"t":2009.86,"u":1.1},{"t":2009.89,"u":0.4},{"t":2009.92,"u":0.7},{"t":2009.95,"u":0.3},{"t":2009.98,"u":0.5},
{"t":2010.02,"u":0.4},{"t":2010.05,"u":0.2},{"t":2010.08,"u":0.6},{"t":2010.11,"u":0.9},{"t":2010.13,"u":0.4},{"t":2010.15,"u":1.4},{"t":2010.17,"u":1.9},{"t":2010.19,"u":0.9},{"t":2010.21,"u":2.6},{"t":2010.22,"u":1.5},{"t":2010.24,"u":3.5},{"t":2010.26,"u":2.2},{"t":2010.28,"u":4.4},{"t":2010.29,"u":1.2},{"t":2010.30,"u":3.1},{"t":2010.32,"u":5.3},{"t":2010.34,"u":2.5},{"t":2010.35,"u":3.9},{"t":2010.37,"u":6.1},{"t":2010.38,"u":4.7},{"t":2010.40,"u":6.8},{"t":2010.41,"u":1.9},{"t":2010.42,"u":5.3},{"t":2010.44,"u":7.3},{"t":2010.45,"u":3.2},{"t":2010.47,"u":7.6},{"t":2010.48,"u":6.0},{"t":2010.49,"u":4.4},{"t":2010.50,"u":8.2},{"t":2010.51,"u":7.2},{"t":2010.52,"u":2.6},{"t":2010.53,"u":5.7},{"t":2010.55,"u":6.7},{"t":2010.56,"u":3.7},{"t":2010.58,"u":6.2},{"t":2010.59,"u":4.9},{"t":2010.60,"u":2.2},{"t":2010.62,"u":5.6},{"t":2010.63,"u":4.0},{"t":2010.65,"u":2.8},{"t":2010.66,"u":4.9},{"t":2010.68,"u":1.6},{"t":2010.69,"u":4.1},{"t":2010.71,"u":3.0},{"t":2010.73,"u":1.3},{"t":2010.74,"u":2.9},{"t":2010.76,"u":2.0},{"t":2010.78,"u":1.1},{"t":2010.80,"u":1.6},{"t":2010.83,"u":0.7},{"t":2010.86,"u":1.0},{"t":2010.89,"u":0.4},{"t":2010.92,"u":0.6},{"t":2010.95,"u":0.3},{"t":2010.98,"u":0.5},
{"t":2011.02,"u":0.4},{"t":2011.05,"u":0.2},{"t":2011.08,"u":0.6},{"t":2011.11,"u":0.9},{"t":2011.13,"u":0.4},{"t":2011.15,"u":1.4},{"t":2011.17,"u":1.9},{"t":2011.19,"u":0.9},{"t":2011.21,"u":2.6},{"t":2011.22,"u":1.5},{"t":2011.24,"u":3.5},{"t":2011.26,"u":2.2},{"t":2011.28,"u":4.4},{"t":2011.29,"u":1.2},{"t":2011.30,"u":3.1},{"t":2011.32,"u":5.3},{"t":2011.34,"u":2.5},{"t":2011.35,"u":3.9},{"t":2011.37,"u":6.1},{"t":2011.38,"u":4.7},{"t":2011.40,"u":6.8},{"t":2011.41,"u":1.9},{"t":2011.42,"u":5.3},{"t":2011.44,"u":7.3},{"t":2011.45,"u":3.2},{"t":2011.46,"u":8.4},{"t":2011.47,"u":7.6},{"t":2011.48,"u":6.0},{"t":2011.49,"u":8.0},{"t":2011.49,"u":4.4},{"t":2011.51,"u":7.2},{"t":2011.52,"u":2.6},{"t":2011.53,"u":5.7},{"t":2011.55,"u":6.7},{"t":2011.56,"u":3.7},{"t":2011.58,"u":6.2},{"t":2011.59,"u":4.9},{"t":2011.60,"u":2.2},{"t":2011.62,"u":5.6},{"t":2011.63,"u":4.0},{"t":2011.65,"u":2.8},{"t":2011.66,"u":4.9},{"t":2011.68,"u":1.6},{"t":2011.69,"u":4.1},{"t":2011.71,"u":3.0},{"t":2011.73,"u":1.3},{"t":2011.74,"u":2.9},{"t":2011.76,"u":2.0},{"t":2011.78,"u":1.1},{"t":2011.80,"u":1.6},{"t":2011.83,"u":0.7},{"t":2011.86,"u":1.0},{"t":2011.89,"u":0.4},{"t":2011.92,"u":0.6},{"t":2011.95,"u":0.3},{"t":2011.98,"u":0.5},
{"t":2012.02,"u":0.4},{"t":2012.05,"u":0.2},{"t":2012.08,"u":0.6},{"t":2012.11,"u":0.9},{"t":2012.13,"u":0.4},{"t":2012.15,"u":1.4},{"t":2012.17,"u":1.9},{"t":2012.19,"u":0.9},{"t":2012.21,"u":2.6},{"t":2012.22,"u":1.5},{"t":2012.24,"u":3.5},{"t":2012.26,"u":2.2},{"t":2012.28,"u":4.4},{"t":2012.29,"u":1.2},{"t":2012.30,"u":3.1},{"t":2012.32,"u":5.3},{"t":2012.34,"u":2.5},{"t":2012.35,"u":3.9},{"t":2012.37,"u":6.1},{"t":2012.38,"u":4.7},{"t":2012.40,"u":6.8},{"t":2012.41,"u":1.9},{"t":2012.42,"u":5.3},{"t":2012.44,"u":7.3},{"t":2012.45,"u":3.2},{"t":2012.47,"u":7.6},{"t":2012.48,"u":7.8},{"t":2012.48,"u":6.0},{"t":2012.49,"u":4.4},{"t":2012.51,"u":7.2},{"t":2012.52,"u":2.6},{"t":2012.53,"u":5.7},{"t":2012.55,"u":6.7},{"t":2012.56,"u":3.7},{"t":2012.58,"u":6.2},{"t":2012.59,"u":4.9},{"t":2012.60,"u":2.2},{"t":2012.62,"u":5.6},{"t":2012.63,"u":4.0},{"t":2012.65,"u":2.8},{"t":2012.66,"u":4.9},{"t":2012.68,"u":1.6},{"t":2012.69,"u":4.1},{"t":2012.71,"u":3.0},{"t":2012.73,"u":1.3},{"t":2012.74,"u":2.9},{"t":2012.76,"u":2.0},{"t":2012.78,"u":1.1},{"t":2012.80,"u":1.6},{"t":2012.83,"u":0.7},{"t":2012.86,"u":1.0},{"t":2012.89,"u":0.4},{"t":2012.92,"u":0.6},{"t":2012.95,"u":0.3},{"t":2012.98,"u":0.5},
{"t":2013.02,"u":0.4},{"t":2013.05,"u":0.2},{"t":2013.08,"u":0.6},{"t":2013.11,"u":0.9},{"t":2013.13,"u":0.4},{"t":2013.15,"u":1.3},{"t":2013.17,"u":1.7},{"t":2013.19,"u":0.9},{"t":2013.21,"u":2.4},{"t":2013.22,"u":1.4},{"t":2013.24,"u":3.2},{"t":2013.26,"u":2.0},{"t":2013.28,"u":4.0},{"t":2013.29,"u":1.1},{"t":2013.30,"u":2.9},{"t":2013.32,"u":4.9},{"t":2013.34,"u":2.3},{"t":2013.35,"u":3.6},{"t":2013.37,"u":5.6},{"t":2013.38,"u":4.3},{"t":2013.40,"u":6.3},{"t":2013.41,"u":1.7},{"t":2013.42,"u":4.9},{"t":2013.44,"u":6.7},{"t":2013.45,"u":2.9},{"t":2013.46,"u":7.3},{"t":2013.47,"u":7.0},{"t":2013.48,"u":5.5},{"t":2013.49,"u":4.0},{"t":2013.51,"u":6.6},{"t":2013.52,"u":2.4},{"t":2013.53,"u":5.2},{"t":2013.55,"u":6.2},{"t":2013.56,"u":3.4},{"t":2013.58,"u":5.7},{"t":2013.59,"u":4.5},{"t":2013.60,"u":2.0},{"t":2013.62,"u":5.2},{"t":2013.63,"u":3.7},{"t":2013.65,"u":2.6},{"t":2013.66,"u":4.5},{"t":2013.68,"u":1.5},{"t":2013.69,"u":3.8},{"t":2013.71,"u":2.8},{"t":2013.73,"u":1.2},{"t":2013.74,"u":2.7},{"t":2013.76,"u":1.8},{"t":2013.78,"u":1.0},{"t":2013.80,"u":1.5},{"t":2013.83,"u":0.7},{"t":2013.86,"u":0.9},{"t":2013.89,"u":0.4},{"t":2013.92,"u":0.6},{"t":2013.95,"u":0.3},{"t":2013.98,"u":0.5},
{"t":2014.02,"u":0.4},{"t":2014.05,"u":0.2},{"t":2014.08,"u":0.6},{"t":2014.11,"u":0.9},{"t":2014.13,"u":0.4},{"t":2014.15,"u":1.4},{"t":2014.17,"u":1.9},{"t":2014.19,"u":0.9},{"t":2014.21,"u":2.6},{"t":2014.22,"u":1.5},{"t":2014.24,"u":3.5},{"t":2014.26,"u":2.2},{"t":2014.28,"u":4.4},{"t":2014.29,"u":1.2},{"t":2014.30,"u":3.1},{"t":2014.32,"u":5.3},{"t":2014.34,"u":2.5},{"t":2014.35,"u":3.9},{"t":2014.37,"u":6.1},{"t":2014.38,"u":4.7},{"t":2014.40,"u":6.8},{"t":2014.41,"u":1.9},{"t":2014.42,"u":5.3},{"t":2014.44,"u":7.3},{"t":2014.45,"u":3.2},{"t":2014.46,"u":7.9},{"t":2014.47,"u":7.6},{"t":2014.48,"u":6.0},{"t":2014.49,"u":4.4},{"t":2014.51,"u":7.2},{"t":2014.52,"u":2.6},{"t":2014.53,"u":5.7},{"t":2014.55,"u":6.7},{"t":2014.56,"u":3.7},{"t":2014.58,"u":6.2},{"t":2014.59,"u":4.9},{"t":2014.60,"u":2.2},{"t":2014.62,"u":5.6},{"t":2014.63,"u":4.0},{"t":2014.65,"u":2.8},{"t":2014.66,"u":4.9},{"t":2014.68,"u":1.6},{"t":2014.69,"u":4.1},{"t":2014.71,"u":3.0},{"t":2014.73,"u":1.3},{"t":2014.74,"u":2.9},{"t":2014.76,"u":2.0},{"t":2014.78,"u":1.1},{"t":2014.80,"u":1.6},{"t":2014.83,"u":0.7},{"t":2014.86,"u":1.0},{"t":2014.89,"u":0.4},{"t":2014.92,"u":0.6},{"t":2014.95,"u":0.3},{"t":2014.98,"u":0.5},
{"t":2015.02,"u":0.4},{"t":2015.05,"u":0.2},{"t":2015.08,"u":0.6},{"t":2015.11,"u":0.9},{"t":2015.13,"u":0.4},{"t":2015.15,"u":1.4},{"t":2015.17,"u":1.9},{"t":2015.19,"u":0.9},{"t":2015.21,"u":2.6},{"t":2015.22,"u":1.5},{"t":2015.24,"u":3.5},{"t":2015.26,"u":2.2},{"t":2015.28,"u":4.4},{"t":2015.29,"u":1.2},{"t":2015.30,"u":3.1},{"t":2015.32,"u":5.3},{"t":2015.34,"u":2.5},{"t":2015.35,"u":3.9},{"t":2015.37,"u":6.1},{"t":2015.38,"u":4.7},{"t":2015.40,"u":6.8},{"t":2015.41,"u":1.9},{"t":2015.42,"u":5.3},{"t":2015.44,"u":7.3},{"t":2015.45,"u":3.2},{"t":2015.47,"u":8.5},{"t":2015.47,"u":7.6},{"t":2015.48,"u":6.0},{"t":2015.49,"u":4.4},{"t":2015.51,"u":7.2},{"t":2015.52,"u":2.6},{"t":2015.53,"u":5.7},{"t":2015.55,"u":6.7},{"t":2015.56,"u":3.7},{"t":2015.58,"u":6.2},{"t":2015.59,"u":4.9},{"t":2015.60,"u":2.2},{"t":2015.62,"u":5.6},{"t":2015.63,"u":4.0},{"t":2015.65,"u":2.8},{"t":2015.66,"u":4.9},{"t":2015.68,"u":1.6},{"t":2015.69,"u":4.1},{"t":2015.71,"u":3.0},{"t":2015.73,"u":1.3},{"t":2015.74,"u":2.9},{"t":2015.76,"u":2.0},{"t":2015.78,"u":1.1},{"t":2015.80,"u":1.6},{"t":2015.83,"u":0.7},{"t":2015.86,"u":1.0},{"t":2015.89,"u":0.4},{"t":2015.92,"u":0.6},{"t":2015.95,"u":0.3},{"t":2015.98,"u":0.5},
{"t":2016.02,"u":0.4},{"t":2016.05,"u":0.2},{"t":2016.08,"u":0.6},{"t":2016.10,"u":0.9}]
},
"layer":[
{"data":{"name":"sza"},"mark":{"type":"line","interpolate":"natural","strokeWidth":1,"color":"#8cc4e6","clip":true},
"encoding":{
"x":{"field":"t","type":"quantitative","scale":{"domain":[1989,2017.55],"nice":false,"zero":false},"axis":{"values":[1989,1990,1991,1992,1993,1994,1995,1996,1997,1998,1999,2000,2001,2002,2003,2004,2005,2006,2007,2008,2009,2010,2011,2012,2013,2014,2015,2016,2017],"tickCount":60,"format":"d","labelExpr":"datum.value % 2 === 0 ? datum.label : ''","labelOverlap":false,"grid":true,"title":"YEARS","titleFontSize":9.5,"labelPadding":5,"titleBaseline":"middle","titleY":32,"gridOpacity":{"condition":{"test":"datum.value % 2 === 0","value":1},"value":0}}},
"y":{"field":"z","type":"quantitative","scale":{"domain":[-3.375,90],"nice":false,"zero":false},"axis":{"orient":"right","values":[0,10,20,30,40,50,60,70,80,90],"tickCount":30,"labelOverlap":false,"grid":false,"title":"SOLAR ZENITH ANGLE (degree)","titleAngle":270,"titleAlign":"center","titleBaseline":"middle","titleX":28,"titleY":116,"labelPadding":2}},
"strokeDash":{"datum":"Solar Zenith Angle","type":"nominal","scale":{"domain":["Solar Zenith Angle"],"range":[[1,0]]},
"legend":{"orient":"none","legendX":301,"legendY":248,"title":null,"padding":5,"labelFont":"Liberation Sans","labelFontSize":9,"labelFontWeight":"bold","labelColor":"#111111","symbolType":"stroke","symbolSize":289,"symbolStrokeWidth":1,"symbolOffset":-4.5,"labelOffset":3}}
}},
{"layer":[
{"data":{"name":"bre"},"mark":{"type":"circle","size":26,"opacity":1,"clip":true},"encoding":{
"x":{"field":"t","type":"quantitative","scale":{"domain":[1989,2017.55],"nice":false,"zero":false}},
"y":{"field":"u","type":"quantitative","scale":{"domain":[-0.45,12],"nice":false,"zero":false},"axis":{"orient":"left","values":[0,2,4,6,8,10,12],"tickCount":30,"format":"d","labelOverlap":false,"grid":true,"title":"UV INDEX","titleAlign":"center","titleBaseline":"middle","titleX":-31,"titleY":116,"labelPadding":2}},
"color":{"datum":"UV INDEX (Bre)","type":"nominal","scale":{"domain":["UV INDEX (Bre)","UV INDEX (MJY)"],"range":["#8d8d8d","#10108c"]},
"legend":{"orient":"none","legendX":301,"legendY":229,"title":" ","titleOrient":"bottom","titleFontSize":12,"titlePadding":2,"direction":"vertical","strokeColor":"#8c8c8c","padding":5,"labelFont":"Liberation Sans","labelFontSize":9,"labelFontWeight":"bold","labelColor":"#111111","symbolType":"circle","symbolSize":12,"symbolOffset":5,"labelOffset":14,"rowPadding":2}}}},
{"data":{"name":"mjy"},"mark":{"type":"circle","size":26,"opacity":1,"clip":true},"encoding":{
"x":{"field":"t","type":"quantitative","scale":{"domain":[1989,2017.55],"nice":false,"zero":false}},
"y":{"field":"u","type":"quantitative","scale":{"domain":[-0.45,12],"nice":false,"zero":false}},
"color":{"datum":"UV INDEX (MJY)","type":"nominal"}}},
{"data":{"values":[{}]},"mark":{"type":"text","align":"left","baseline":"middle","fontSize":8,"font":"Liberation Sans","color":"#222222","clip":false},"encoding":{
"x":{"datum":1986.78,"type":"quantitative","scale":{"domain":[1989,2017.55],"nice":false,"zero":false}},
"y":{"datum":-3.72,"type":"quantitative","scale":{"domain":[-0.45,12],"nice":false,"zero":false}},
"text":{"value":"07/02/2016"}}}
]}
],
"resolve":{"scale":{"y":"independent"}}
}
